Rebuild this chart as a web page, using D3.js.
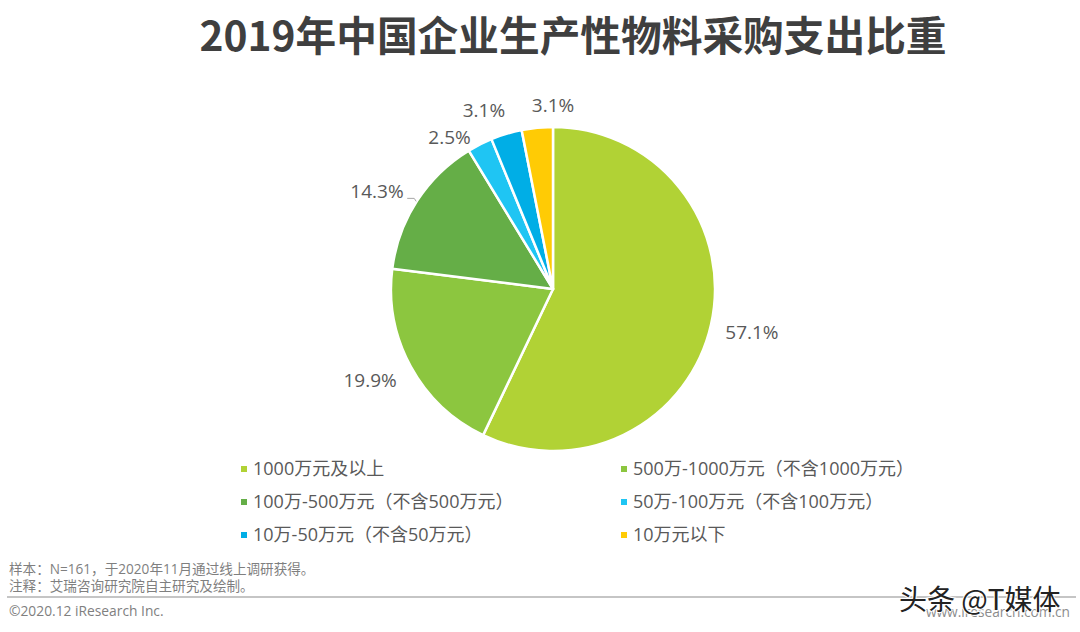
<!DOCTYPE html>
<html lang="zh">
<head>
<meta charset="UTF-8">
<title>2019年中国企业生产性物料采购支出比重</title>
<script src="https://d3js.org/d3.v7.min.js"></script>
<style>
  html, body { margin: 0; padding: 0; background: #fff; }
  svg { display: block; }
  text { font-family: "Open Sans", "Noto Sans CJK SC", sans-serif; }
</style>
</head>
<body>
<svg width="1080" height="632"></svg>
<script>
const categories = ["1000万元及以上", "500万-1000万元（不含1000万元）", "100万-500万元（不含500万元）",
  "50万-100万元（不含100万元）", "10万-50万元（不含50万元）", "10万元以下"];
const shares = [57.1, 19.9, 14.3, 2.5, 3.1, 3.1];
const colors = ["#b1d235", "#8cc63f", "#65ae47", "#1fc5f3", "#00aee6", "#ffcb05"];
const notes = ["样本：N=161，于2020年11月通过线上调研获得。", "注释：艾瑞咨询研究院自主研究及绘制。"];

const svg = d3.select("svg");
const cx = 553, cy = 289, radius = 162;

svg.append("text")
  .attr("x", 573).attr("y", 51)
  .attr("text-anchor", "middle")
  .attr("font-size", 40.7).attr("font-weight", 700)
  .attr("fill", "#3f3f3f")
  .style("font-family", '"Noto Sans CJK SC", sans-serif')
  .text("2019年中国企业生产性物料采购支出比重");

const pie = d3.pie().sort(null)(shares);
const arc = d3.arc().innerRadius(0).outerRadius(radius);
const chart = svg.append("g").attr("transform", `translate(${cx},${cy})`);

chart.selectAll("path")
  .data(pie)
  .enter().append("path")
  .attr("d", arc)
  .attr("fill", (d, i) => colors[i])
  .attr("stroke", "#fff")
  .attr("stroke-width", 2.5)
  .attr("stroke-linejoin", "round");

// labels sit on an outer ring, then get nudged the way they were dragged by hand in the original
const labelArc = d3.arc().innerRadius(205).outerRadius(205);
const nudges = [[-1, -2], [-3, -7], [-4, 14], [-11, 31], [-10, 18], [20, 20]];

chart.selectAll(".label")
  .data(pie)
  .enter().append("text")
  .attr("class", "label")
  .attr("transform", (d, i) => {
    const [x, y] = labelArc.centroid(d);
    return `translate(${x + nudges[i][0]},${y + nudges[i][1]})`;
  })
  .attr("text-anchor", "middle")
  .attr("dy", "0.35em")
  .attr("font-size", 19)
  .attr("fill", "#595959")
  .text(d => d.value.toFixed(1) + "%");

// short leader next to the 14.3% label
const leaderArc = d3.arc().innerRadius(radius + 1).outerRadius(radius + 1);
const leaderEnd = leaderArc.centroid(pie[2]);
chart.append("path")
  .attr("d", d3.line()([[leaderEnd[0] - 9, leaderEnd[1] - 2], [leaderEnd[0] - 2, leaderEnd[1] - 2], [leaderEnd[0], leaderEnd[1] + 1]]))
  .attr("fill", "none")
  .attr("stroke", "#a6a6a6");

// legend: two columns, three rows
const legendX = d3.scalePoint().domain([0, 1]).range([241, 621]);
const legendY = d3.scalePoint().domain([0, 1, 2]).range([469, 535]);
const legend = svg.selectAll(".legend")
  .data(categories)
  .enter().append("g")
  .attr("class", "legend")
  .attr("transform", (d, i) => `translate(${legendX(i % 2)},${legendY(Math.floor(i / 2))})`);

legend.append("rect")
  .attr("x", 0).attr("y", -3)
  .attr("width", 6).attr("height", 6)
  .attr("fill", (d, i) => colors[i]);

legend.append("text")
  .attr("x", 12)
  .attr("dy", "0.36em")
  .attr("font-size", 18)
  .attr("fill", "#595959")
  .text(d => d);

svg.selectAll(".note")
  .data(notes)
  .enter().append("text")
  .attr("class", "note")
  .attr("x", 9)
  .attr("y", (d, i) => 574 + i * 17)
  .attr("font-size", 13.6)
  .attr("fill", "#7f7f7f")
  .text(d => d);

svg.append("line")
  .attr("x1", 7).attr("x2", 1076)
  .attr("y1", 597).attr("y2", 597)
  .attr("stroke", "#8c8c8c")
  .attr("stroke-width", 1.2);

svg.append("text")
  .attr("x", 9).attr("y", 616)
  .attr("font-size", 13.8)
  .attr("fill", "#7f7f7f")
  .text("©2020.12 iResearch Inc.");

svg.append("text")
  .attr("x", 1070).attr("y", 617)
  .attr("text-anchor", "end")
  .attr("font-size", 13.7)
  .attr("fill", "#8c8c8c")
  .text("www.iresearch.com.cn");

svg.append("text")
  .attr("x", 899).attr("y", 610)
  .attr("font-size", 28)
  .attr("fill", "#222")
  .attr("stroke", "#fff")
  .attr("stroke-width", 2)
  .attr("paint-order", "stroke")
  .style("font-family", '"Noto Sans CJK SC", sans-serif')
  .text("头条 @T媒体");
</script>
</body>
</html>
